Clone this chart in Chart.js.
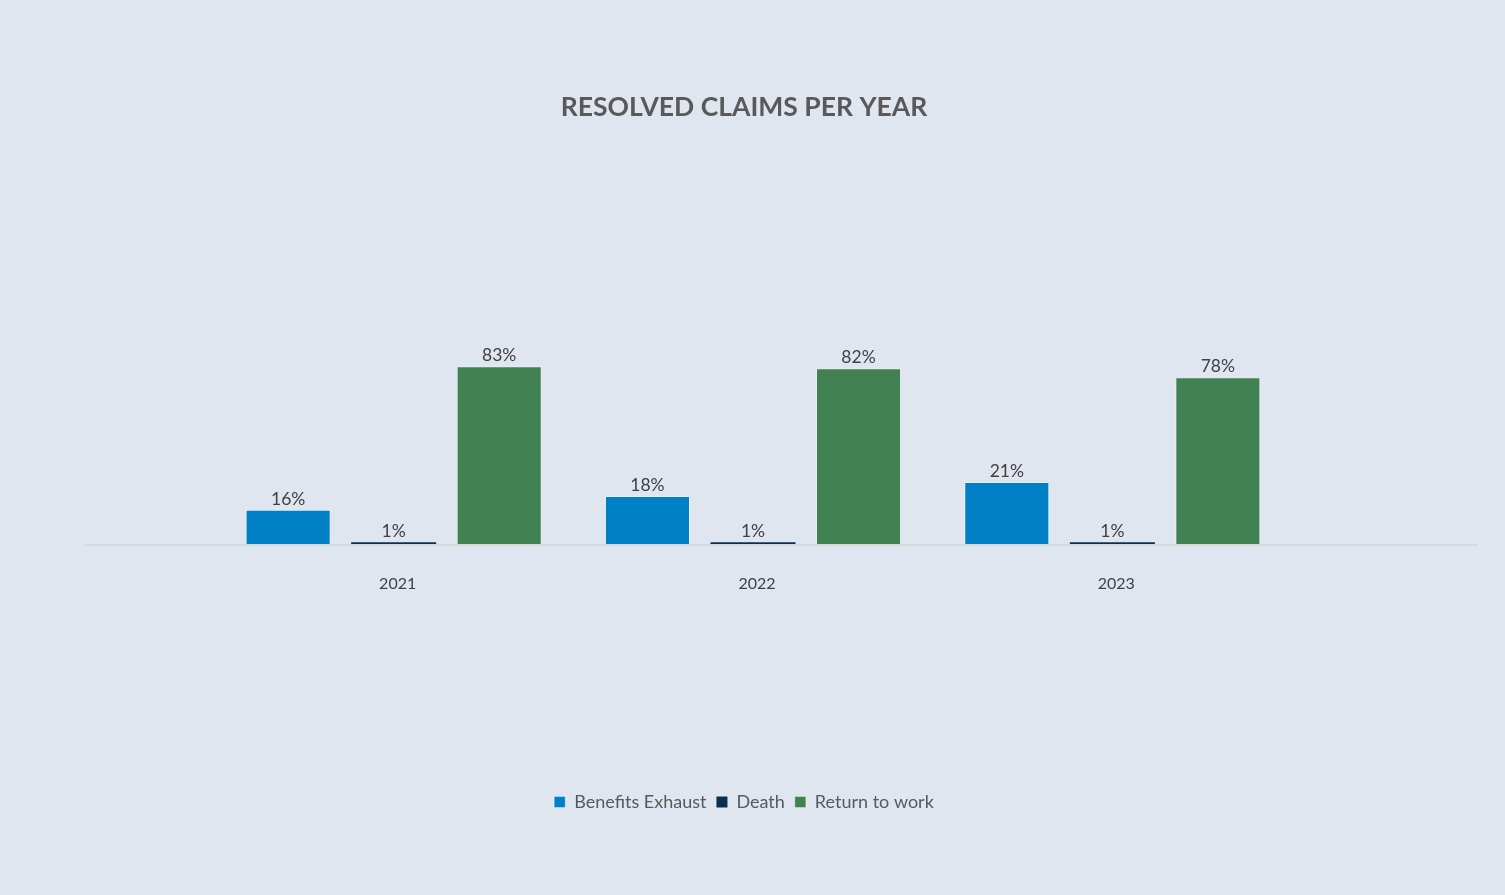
<!DOCTYPE html>
<html>
<head>
<meta charset="utf-8">
<script src="https://cdn.jsdelivr.net/npm/chart.js@4"></script>
<style>
  html, body { margin: 0; padding: 0; background: #e0e6f0; }
  #chart { display: block; }
</style>
</head>
<body>
<canvas id="chart" width="1505" height="895"></canvas>
<script>
// 카테고리 (연도)
const years = ["2021", "2022", "2023"];

// 막대 높이 (그림에서 읽은 값, %)
const benefitsExhaust = [16, 22.4, 29];
const death = [0.8, 0.8, 0.8];
const returnToWork = [83, 82, 77.8];

// 막대 위에 표시된 라벨
const benefitsExhaustLabels = ["16%", "18%", "21%"];
const deathLabels = ["1%", "1%", "1%"];
const returnToWorkLabels = ["83%", "82%", "78%"];

const FONT = "Lato, 'Noto Sans', sans-serif";

// x축 선 (차트 영역보다 넓게 그림)
const axisLinePlugin = {
  id: "axisLine",
  beforeDatasetsDraw(chart) {
    const ctx = chart.ctx;
    const y = chart.scales.y.getPixelForValue(0) + 1;
    ctx.save();
    ctx.strokeStyle = "#d5d5d5";
    ctx.lineWidth = 1.5;
    ctx.beginPath();
    ctx.moveTo(85, y);
    ctx.lineTo(1478, y);
    ctx.stroke();
    ctx.restore();
  }
};

// 막대 위 값 라벨
const valueLabelPlugin = {
  id: "valueLabels",
  afterDatasetsDraw(chart) {
    const ctx = chart.ctx;
    ctx.save();
    ctx.font = "17.5px " + FONT;
    ctx.fillStyle = "#404040";
    ctx.textAlign = "center";
    ctx.textBaseline = "alphabetic";
    chart.data.datasets.forEach(function (ds, i) {
      const meta = chart.getDatasetMeta(i);
      meta.data.forEach(function (bar, j) {
        ctx.fillText(ds.valueLabels[j], bar.x, bar.y - 5);
      });
    });
    ctx.restore();
  }
};

const ctx = document.getElementById("chart").getContext("2d");
const chart = new Chart(ctx, {
  type: "bar",
  data: {
    labels: years,
    datasets: [
      {
        label: "Benefits Exhaust",
        data: benefitsExhaust,
        valueLabels: benefitsExhaustLabels,
        backgroundColor: "#0080c6",
        borderColor: "rgba(255,255,255,0.35)",
        borderWidth: 1
      },
      {
        label: "Death",
        data: death,
        valueLabels: deathLabels,
        backgroundColor: "#0c2f50",
        borderWidth: 0
      },
      {
        label: "Return to work",
        data: returnToWork,
        valueLabels: returnToWorkLabels,
        backgroundColor: "#428151",
        borderColor: "rgba(255,255,255,0.35)",
        borderWidth: 1
      }
    ]
  },
  options: {
    responsive: false,
    animation: false,
    categoryPercentage: 0.881,
    barPercentage: 0.806,
    layout: {
      padding: { left: 196, right: 213, top: 0, bottom: 74 }
    },
    plugins: {
      title: {
        display: true,
        text: "RESOLVED CLAIMS PER YEAR",
        color: "#595959",
        font: { family: FONT, size: 26.5, weight: "bold" },
        padding: { top: 92, bottom: 206 }
      },
      legend: {
        position: "bottom",
        labels: {
          color: "#595959",
          font: { family: FONT, size: 18 },
          boxWidth: 11,
          boxHeight: 11,
          padding: 10
        }
      },
      tooltip: { enabled: false }
    },
    scales: {
      x: {
        grid: { display: false, drawTicks: false },
        border: { display: false },
        ticks: {
          color: "#404040",
          font: { family: FONT, size: 16 },
          padding: 30,
          labelOffset: 4
        },
        afterFit: function (scale) {
          scale.height = 239;
        }
      },
      y: {
        min: 0,
        max: 100,
        grid: { display: false, drawTicks: false },
        border: { display: false },
        ticks: { display: false },
        afterFit: function (scale) {
          scale.width = 18;
        }
      }
    }
  },
  plugins: [axisLinePlugin, valueLabelPlugin]
});
</script>
</body>
</html>
